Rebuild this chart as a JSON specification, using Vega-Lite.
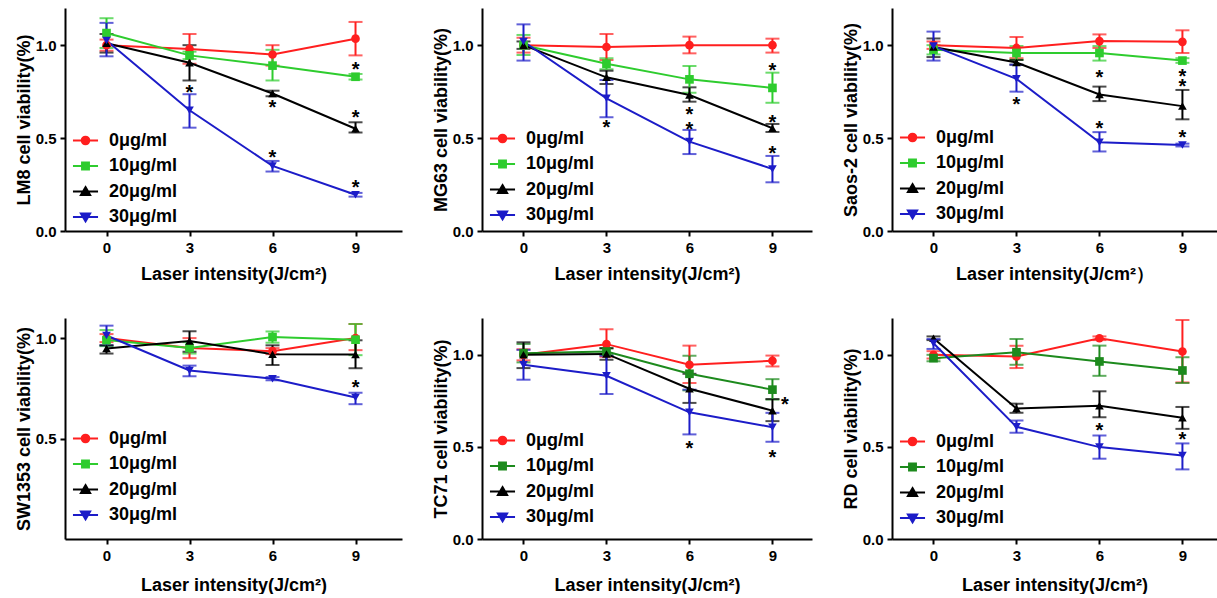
{
"$schema": "https://vega.github.io/schema/vega-lite/v6.json",
"background": "white",
"padding": {"left": 15, "top": 8, "right": 0, "bottom": 0},
"config": {
  "view": {"stroke": null},
  "font": "Liberation Sans",
  "axis": {"grid": false, "domainColor": "#000", "domainWidth": 2, "tickColor": "#000", "tickWidth": 2, "tickSize": 5, "labelFont": "Liberation Sans", "labelFontSize": 15, "labelFontWeight": "bold", "labelColor": "#000", "labelPadding": 4, "titleFont": "Liberation Sans", "titleFontSize": 18, "titleFontWeight": "bold", "titleColor": "#000"},
  "axisY": {"titlePadding": 2},
  "axisX": {"titlePadding": 10},
  "legend": {"symbolSize": 529, "symbolStrokeWidth": 2, "labelFont": "Liberation Sans", "labelFontWeight": "bold", "labelFontSize": 18, "labelColor": "#000", "labelOffset": 11, "padding": 0, "rowPadding": 3.5}
},
"datasets": {
"pts": [
{"cell":"LM8","series":"0μg/ml","x":0,"y":1.0,"lo":0.97,"hi":1.03},
{"cell":"LM8","series":"0μg/ml","x":3,"y":0.98,"lo":0.9,"hi":1.06},
{"cell":"LM8","series":"0μg/ml","x":6,"y":0.95,"lo":0.89,"hi":1.0},
{"cell":"LM8","series":"0μg/ml","x":9,"y":1.035,"lo":0.945,"hi":1.125},
{"cell":"LM8","series":"10μg/ml","x":0,"y":1.065,"lo":0.985,"hi":1.145},
{"cell":"LM8","series":"10μg/ml","x":3,"y":0.945,"lo":0.925,"hi":0.965},
{"cell":"LM8","series":"10μg/ml","x":6,"y":0.89,"lo":0.81,"hi":0.975},
{"cell":"LM8","series":"10μg/ml","x":9,"y":0.83,"lo":0.815,"hi":0.845},
{"cell":"LM8","series":"20μg/ml","x":0,"y":1.01,"lo":0.96,"hi":1.06},
{"cell":"LM8","series":"20μg/ml","x":3,"y":0.905,"lo":0.81,"hi":1.0},
{"cell":"LM8","series":"20μg/ml","x":6,"y":0.74,"lo":0.725,"hi":0.755},
{"cell":"LM8","series":"20μg/ml","x":9,"y":0.55,"lo":0.53,"hi":0.585},
{"cell":"LM8","series":"30μg/ml","x":0,"y":1.025,"lo":0.94,"hi":1.12},
{"cell":"LM8","series":"30μg/ml","x":3,"y":0.65,"lo":0.556,"hi":0.736},
{"cell":"LM8","series":"30μg/ml","x":6,"y":0.35,"lo":0.32,"hi":0.377},
{"cell":"LM8","series":"30μg/ml","x":9,"y":0.195,"lo":0.185,"hi":0.205},
{"cell":"MG63","series":"0μg/ml","x":0,"y":1.0,"lo":0.96,"hi":1.04},
{"cell":"MG63","series":"0μg/ml","x":3,"y":0.99,"lo":0.92,"hi":1.06},
{"cell":"MG63","series":"0μg/ml","x":6,"y":1.0,"lo":0.956,"hi":1.046},
{"cell":"MG63","series":"0μg/ml","x":9,"y":1.0,"lo":0.96,"hi":1.035},
{"cell":"MG63","series":"10μg/ml","x":0,"y":1.0,"lo":0.947,"hi":1.055},
{"cell":"MG63","series":"10μg/ml","x":3,"y":0.9,"lo":0.87,"hi":0.93},
{"cell":"MG63","series":"10μg/ml","x":6,"y":0.816,"lo":0.744,"hi":0.888},
{"cell":"MG63","series":"10μg/ml","x":9,"y":0.77,"lo":0.69,"hi":0.852},
{"cell":"MG63","series":"20μg/ml","x":0,"y":1.0,"lo":0.98,"hi":1.02},
{"cell":"MG63","series":"20μg/ml","x":3,"y":0.827,"lo":0.791,"hi":0.863},
{"cell":"MG63","series":"20μg/ml","x":6,"y":0.732,"lo":0.696,"hi":0.773},
{"cell":"MG63","series":"20μg/ml","x":9,"y":0.553,"lo":0.533,"hi":0.576},
{"cell":"MG63","series":"30μg/ml","x":0,"y":1.02,"lo":0.917,"hi":1.112},
{"cell":"MG63","series":"30μg/ml","x":3,"y":0.714,"lo":0.612,"hi":0.813},
{"cell":"MG63","series":"30μg/ml","x":6,"y":0.481,"lo":0.414,"hi":0.544},
{"cell":"MG63","series":"30μg/ml","x":9,"y":0.334,"lo":0.262,"hi":0.404},
{"cell":"Saos-2","series":"0μg/ml","x":0,"y":1.0,"lo":0.98,"hi":1.02},
{"cell":"Saos-2","series":"0μg/ml","x":3,"y":0.985,"lo":0.93,"hi":1.044},
{"cell":"Saos-2","series":"0μg/ml","x":6,"y":1.022,"lo":0.985,"hi":1.058},
{"cell":"Saos-2","series":"0μg/ml","x":9,"y":1.018,"lo":0.958,"hi":1.08},
{"cell":"Saos-2","series":"10μg/ml","x":0,"y":0.976,"lo":0.95,"hi":1.0},
{"cell":"Saos-2","series":"10μg/ml","x":3,"y":0.958,"lo":0.922,"hi":0.995},
{"cell":"Saos-2","series":"10μg/ml","x":6,"y":0.958,"lo":0.917,"hi":0.995},
{"cell":"Saos-2","series":"10μg/ml","x":9,"y":0.917,"lo":0.905,"hi":0.93},
{"cell":"Saos-2","series":"20μg/ml","x":0,"y":0.99,"lo":0.936,"hi":1.036},
{"cell":"Saos-2","series":"20μg/ml","x":3,"y":0.907,"lo":0.895,"hi":0.92},
{"cell":"Saos-2","series":"20μg/ml","x":6,"y":0.735,"lo":0.699,"hi":0.777},
{"cell":"Saos-2","series":"20μg/ml","x":9,"y":0.672,"lo":0.601,"hi":0.759},
{"cell":"Saos-2","series":"30μg/ml","x":0,"y":0.995,"lo":0.917,"hi":1.073},
{"cell":"Saos-2","series":"30μg/ml","x":3,"y":0.819,"lo":0.75,"hi":0.895},
{"cell":"Saos-2","series":"30μg/ml","x":6,"y":0.477,"lo":0.428,"hi":0.532},
{"cell":"Saos-2","series":"30μg/ml","x":9,"y":0.463,"lo":0.455,"hi":0.47},
{"cell":"SW1353","series":"0μg/ml","x":0,"y":1.0,"lo":0.98,"hi":1.02},
{"cell":"SW1353","series":"0μg/ml","x":3,"y":0.951,"lo":0.9,"hi":1.0},
{"cell":"SW1353","series":"0μg/ml","x":6,"y":0.935,"lo":0.92,"hi":0.95},
{"cell":"SW1353","series":"0μg/ml","x":9,"y":1.0,"lo":0.94,"hi":1.07},
{"cell":"SW1353","series":"10μg/ml","x":0,"y":0.99,"lo":0.96,"hi":1.04},
{"cell":"SW1353","series":"10μg/ml","x":3,"y":0.951,"lo":0.923,"hi":0.98},
{"cell":"SW1353","series":"10μg/ml","x":6,"y":1.005,"lo":0.977,"hi":1.033},
{"cell":"SW1353","series":"10μg/ml","x":9,"y":0.992,"lo":0.915,"hi":1.07},
{"cell":"SW1353","series":"20μg/ml","x":0,"y":0.948,"lo":0.923,"hi":0.964},
{"cell":"SW1353","series":"20μg/ml","x":3,"y":0.985,"lo":0.932,"hi":1.034},
{"cell":"SW1353","series":"20μg/ml","x":6,"y":0.92,"lo":0.866,"hi":0.964},
{"cell":"SW1353","series":"20μg/ml","x":9,"y":0.918,"lo":0.85,"hi":0.989},
{"cell":"SW1353","series":"30μg/ml","x":0,"y":1.013,"lo":0.964,"hi":1.062},
{"cell":"SW1353","series":"30μg/ml","x":3,"y":0.839,"lo":0.81,"hi":0.863},
{"cell":"SW1353","series":"30μg/ml","x":6,"y":0.798,"lo":0.79,"hi":0.806},
{"cell":"SW1353","series":"30μg/ml","x":9,"y":0.704,"lo":0.671,"hi":0.728},
{"cell":"TC71","series":"0μg/ml","x":0,"y":1.0,"lo":0.97,"hi":1.03},
{"cell":"TC71","series":"0μg/ml","x":3,"y":1.058,"lo":0.99,"hi":1.139},
{"cell":"TC71","series":"0μg/ml","x":6,"y":0.946,"lo":0.847,"hi":1.05},
{"cell":"TC71","series":"0μg/ml","x":9,"y":0.968,"lo":0.937,"hi":0.996},
{"cell":"TC71","series":"10μg/ml","x":0,"y":1.009,"lo":0.959,"hi":1.059},
{"cell":"TC71","series":"10μg/ml","x":3,"y":1.018,"lo":1.0,"hi":1.036},
{"cell":"TC71","series":"10μg/ml","x":6,"y":0.897,"lo":0.807,"hi":0.995},
{"cell":"TC71","series":"10μg/ml","x":9,"y":0.811,"lo":0.757,"hi":0.868},
{"cell":"TC71","series":"20μg/ml","x":0,"y":1.0,"lo":0.928,"hi":1.068},
{"cell":"TC71","series":"20μg/ml","x":3,"y":1.005,"lo":0.973,"hi":1.036},
{"cell":"TC71","series":"20μg/ml","x":6,"y":0.816,"lo":0.739,"hi":0.897},
{"cell":"TC71","series":"20μg/ml","x":9,"y":0.697,"lo":0.64,"hi":0.76},
{"cell":"TC71","series":"30μg/ml","x":0,"y":0.946,"lo":0.865,"hi":1.027},
{"cell":"TC71","series":"30μg/ml","x":3,"y":0.886,"lo":0.787,"hi":0.995},
{"cell":"TC71","series":"30μg/ml","x":6,"y":0.688,"lo":0.568,"hi":0.811},
{"cell":"TC71","series":"30μg/ml","x":9,"y":0.607,"lo":0.528,"hi":0.685},
{"cell":"RD","series":"0μg/ml","x":0,"y":1.0,"lo":0.98,"hi":1.02},
{"cell":"RD","series":"0μg/ml","x":3,"y":0.991,"lo":0.928,"hi":1.049},
{"cell":"RD","series":"0μg/ml","x":6,"y":1.09,"lo":1.08,"hi":1.1},
{"cell":"RD","series":"0μg/ml","x":9,"y":1.018,"lo":0.85,"hi":1.189},
{"cell":"RD","series":"10μg/ml","x":0,"y":0.982,"lo":0.965,"hi":1.0},
{"cell":"RD","series":"10μg/ml","x":3,"y":1.014,"lo":0.946,"hi":1.086},
{"cell":"RD","series":"10μg/ml","x":6,"y":0.964,"lo":0.886,"hi":1.05},
{"cell":"RD","series":"10μg/ml","x":9,"y":0.915,"lo":0.847,"hi":0.987},
{"cell":"RD","series":"20μg/ml","x":0,"y":1.09,"lo":1.08,"hi":1.1},
{"cell":"RD","series":"20μg/ml","x":3,"y":0.708,"lo":0.685,"hi":0.735},
{"cell":"RD","series":"20μg/ml","x":6,"y":0.724,"lo":0.661,"hi":0.802},
{"cell":"RD","series":"20μg/ml","x":9,"y":0.658,"lo":0.598,"hi":0.717},
{"cell":"RD","series":"30μg/ml","x":0,"y":1.063,"lo":1.032,"hi":1.086},
{"cell":"RD","series":"30μg/ml","x":3,"y":0.609,"lo":0.577,"hi":0.643},
{"cell":"RD","series":"30μg/ml","x":6,"y":0.499,"lo":0.436,"hi":0.562},
{"cell":"RD","series":"30μg/ml","x":9,"y":0.454,"lo":0.378,"hi":0.519}
],
"stars": [
{"cell":"LM8","x":3,"y":0.768},{"cell":"LM8","x":6,"y":0.687},{"cell":"LM8","x":6,"y":0.418},{"cell":"LM8","x":9,"y":0.892},{"cell":"LM8","x":9,"y":0.637},{"cell":"LM8","x":9,"y":0.26},
{"cell":"MG63","x":3,"y":0.58},{"cell":"MG63","x":6,"y":0.651},{"cell":"MG63","x":6,"y":0.571},{"cell":"MG63","x":9,"y":0.888},{"cell":"MG63","x":9,"y":0.607},{"cell":"MG63","x":9,"y":0.44},
{"cell":"Saos-2","x":3,"y":0.704},{"cell":"Saos-2","x":6,"y":0.849},{"cell":"Saos-2","x":6,"y":0.577},{"cell":"Saos-2","x":9,"y":0.853},{"cell":"Saos-2","x":9,"y":0.804},{"cell":"Saos-2","x":9,"y":0.526},
{"cell":"SW1353","x":9,"y":0.777},
{"cell":"TC71","x":6,"y":0.514},{"cell":"TC71","x":9,"y":0.468},{"cell":"TC71","x":9.45,"y":0.757},
{"cell":"RD","x":6,"y":0.613},{"cell":"RD","x":9,"y":0.562}
]
},
"columns": 3,
"spacing": {"row": 87, "column": 80},
"bounds": "flush",
"resolve": {"scale": {"color": "independent", "shape": "independent", "fill": "independent", "stroke": "independent"}},
"concat": [
{
 "width": 337, "height": 223,
 "resolve": {"scale": {"shape": "independent", "fill": "independent", "stroke": "independent"}},
 "encoding": {
  "x": {"field": "x", "type": "quantitative", "scale": {"domain": [-1.5, 10.68], "nice": false, "zero": false}, "axis": {"values": [0,3,6,9], "title": "Laser intensity(J/cm²)"}},
  "y": {"field": "y", "type": "quantitative", "scale": {"domain": [0, 1.2], "nice": false}, "axis": {"values": [0,0.5,1], "format": ".1f", "title": "LM8 cell viability(%)"}}
 },
 "layer": [
  {"data": {"name": "pts"}, "transform": [{"filter": "datum.cell === 'LM8'"}],
   "mark": {"type": "errorbar", "thickness": 2, "ticks": {"size": 14, "thickness": 2}},
   "encoding": {"y": {"field": "lo", "type": "quantitative", "scale": {"domain": [0, 1.2], "nice": false}, "axis": {"values": [0,0.5,1], "format": ".1f", "title": "LM8 cell viability(%)"}}, "y2": {"field": "hi"},
     "color": {"field": "series", "type": "nominal", "scale": {"domain": ["0μg/ml","10μg/ml","20μg/ml","30μg/ml"], "range": ["#ff1f1f","#2ecc2e","#000000","#1c1cc8"]}, "legend": null}}},
  {"data": {"name": "pts"}, "transform": [{"filter": "datum.cell === 'LM8'"}],
   "mark": {"type": "line", "strokeWidth": 2},
   "encoding": {"color": {"field": "series", "type": "nominal", "scale": {"domain": ["0μg/ml","10μg/ml","20μg/ml","30μg/ml"], "range": ["#ff1f1f","#2ecc2e","#000000","#1c1cc8"]}, "legend": null}}},
  {"data": {"name": "pts"}, "transform": [{"filter": "datum.cell === 'LM8'"}],
   "mark": {"type": "point", "filled": true, "opacity": 1, "size": 75},
   "encoding": {"color": {"field": "series", "type": "nominal", "scale": {"domain": ["0μg/ml","10μg/ml","20μg/ml","30μg/ml"], "range": ["#ff1f1f","#2ecc2e","#000000","#1c1cc8"]}, "legend": null},
     "shape": {"field": "series", "type": "nominal", "scale": {"domain": ["0μg/ml","10μg/ml","20μg/ml","30μg/ml"], "range": ["circle","square","triangle-up","triangle-down"]}, "legend": null}}},
  {"data": {"name": "pts"}, "transform": [{"filter": "false"}],
   "mark": {"type": "point", "filled": true, "opacity": 1},
   "encoding": {
     "fill": {"field": "series", "type": "nominal", "scale": {"domain": ["0μg/ml","10μg/ml","20μg/ml","30μg/ml"], "range": ["#ff1f1f","#2ecc2e","#000000","#1c1cc8"]}, "legend": {"title": null, "orient": "none", "legendX": 8, "legendY": 120}},
     "stroke": {"field": "series", "type": "nominal", "scale": {"domain": ["0μg/ml","10μg/ml","20μg/ml","30μg/ml"], "range": ["#ff1f1f","#2ecc2e","#000000","#1c1cc8"]}, "legend": {"title": null, "orient": "none", "legendX": 8, "legendY": 120}},
     "shape": {"field": "series", "type": "nominal", "scale": {"domain": ["0μg/ml","10μg/ml","20μg/ml","30μg/ml"], "range": ["M-1.09,0L1.09,0M-0.33,0A0.33,0.33,0,1,0,0.33,0A0.33,0.33,0,1,0,-0.33,0Z","M-1.09,0L1.09,0M-0.3,-0.3L0.3,-0.3L0.3,0.3L-0.3,0.3Z","M-1.09,0L1.09,0M0,-0.38L0.4,0.3L-0.4,0.3Z","M-1.09,0L1.09,0M0,0.38L0.4,-0.3L-0.4,-0.3Z"]}, "legend": {"title": null, "orient": "none", "legendX": 8, "legendY": 120}}}},
  {"data": {"name": "stars"}, "transform": [{"filter": "datum.cell === 'LM8'"}],
   "mark": {"type": "text", "text": "*", "font": "Liberation Sans", "fontWeight": "bold", "fontSize": 20, "baseline": "alphabetic", "dy": 11, "color": "#000"}}
 ]
},
{
 "width": 330, "height": 223,
 "resolve": {"scale": {"shape": "independent", "fill": "independent", "stroke": "independent"}},
 "encoding": {
  "x": {"field": "x", "type": "quantitative", "scale": {"domain": [-1.5, 10.43], "nice": false, "zero": false}, "axis": {"values": [0,3,6,9], "title": "Laser intensity(J/cm²)"}},
  "y": {"field": "y", "type": "quantitative", "scale": {"domain": [0, 1.2], "nice": false}, "axis": {"values": [0,0.5,1], "format": ".1f", "title": "MG63 cell viability(%)"}}
 },
 "layer": [
  {"data": {"name": "pts"}, "transform": [{"filter": "datum.cell === 'MG63'"}],
   "mark": {"type": "errorbar", "thickness": 2, "ticks": {"size": 14, "thickness": 2}},
   "encoding": {"y": {"field": "lo", "type": "quantitative", "scale": {"domain": [0, 1.2], "nice": false}, "axis": {"values": [0,0.5,1], "format": ".1f", "title": "MG63 cell viability(%)"}}, "y2": {"field": "hi"},
     "color": {"field": "series", "type": "nominal", "scale": {"domain": ["0μg/ml","10μg/ml","20μg/ml","30μg/ml"], "range": ["#ff1f1f","#2ecc2e","#000000","#1c1cc8"]}, "legend": null}}},
  {"data": {"name": "pts"}, "transform": [{"filter": "datum.cell === 'MG63'"}],
   "mark": {"type": "line", "strokeWidth": 2},
   "encoding": {"color": {"field": "series", "type": "nominal", "scale": {"domain": ["0μg/ml","10μg/ml","20μg/ml","30μg/ml"], "range": ["#ff1f1f","#2ecc2e","#000000","#1c1cc8"]}, "legend": null}}},
  {"data": {"name": "pts"}, "transform": [{"filter": "datum.cell === 'MG63'"}],
   "mark": {"type": "point", "filled": true, "opacity": 1, "size": 75},
   "encoding": {"color": {"field": "series", "type": "nominal", "scale": {"domain": ["0μg/ml","10μg/ml","20μg/ml","30μg/ml"], "range": ["#ff1f1f","#2ecc2e","#000000","#1c1cc8"]}, "legend": null},
     "shape": {"field": "series", "type": "nominal", "scale": {"domain": ["0μg/ml","10μg/ml","20μg/ml","30μg/ml"], "range": ["circle","square","triangle-up","triangle-down"]}, "legend": null}}},
  {"data": {"name": "pts"}, "transform": [{"filter": "false"}],
   "mark": {"type": "point", "filled": true, "opacity": 1},
   "encoding": {
     "fill": {"field": "series", "type": "nominal", "scale": {"domain": ["0μg/ml","10μg/ml","20μg/ml","30μg/ml"], "range": ["#ff1f1f","#2ecc2e","#000000","#1c1cc8"]}, "legend": {"title": null, "orient": "none", "legendX": 8, "legendY": 118}},
     "stroke": {"field": "series", "type": "nominal", "scale": {"domain": ["0μg/ml","10μg/ml","20μg/ml","30μg/ml"], "range": ["#ff1f1f","#2ecc2e","#000000","#1c1cc8"]}, "legend": {"title": null, "orient": "none", "legendX": 8, "legendY": 118}},
     "shape": {"field": "series", "type": "nominal", "scale": {"domain": ["0μg/ml","10μg/ml","20μg/ml","30μg/ml"], "range": ["M-1.09,0L1.09,0M-0.33,0A0.33,0.33,0,1,0,0.33,0A0.33,0.33,0,1,0,-0.33,0Z","M-1.09,0L1.09,0M-0.3,-0.3L0.3,-0.3L0.3,0.3L-0.3,0.3Z","M-1.09,0L1.09,0M0,-0.38L0.4,0.3L-0.4,0.3Z","M-1.09,0L1.09,0M0,0.38L0.4,-0.3L-0.4,-0.3Z"]}, "legend": {"title": null, "orient": "none", "legendX": 8, "legendY": 118}}}},
  {"data": {"name": "stars"}, "transform": [{"filter": "datum.cell === 'MG63'"}],
   "mark": {"type": "text", "text": "*", "font": "Liberation Sans", "fontWeight": "bold", "fontSize": 20, "baseline": "alphabetic", "dy": 11, "color": "#000"}}
 ]
},
{
 "width": 325, "height": 223,
 "resolve": {"scale": {"shape": "independent", "fill": "independent", "stroke": "independent"}},
 "encoding": {
  "x": {"field": "x", "type": "quantitative", "scale": {"domain": [-1.5, 10.25], "nice": false, "zero": false}, "axis": {"values": [0,3,6,9], "title": "Laser intensity(J/cm²）"}},
  "y": {"field": "y", "type": "quantitative", "scale": {"domain": [0, 1.2], "nice": false}, "axis": {"values": [0,0.5,1], "format": ".1f", "title": "Saos-2 cell viability(%)"}}
 },
 "layer": [
  {"data": {"name": "pts"}, "transform": [{"filter": "datum.cell === 'Saos-2'"}],
   "mark": {"type": "errorbar", "thickness": 2, "ticks": {"size": 14, "thickness": 2}},
   "encoding": {"y": {"field": "lo", "type": "quantitative", "scale": {"domain": [0, 1.2], "nice": false}, "axis": {"values": [0,0.5,1], "format": ".1f", "title": "Saos-2 cell viability(%)"}}, "y2": {"field": "hi"},
     "color": {"field": "series", "type": "nominal", "scale": {"domain": ["0μg/ml","10μg/ml","20μg/ml","30μg/ml"], "range": ["#ff1f1f","#2ecc2e","#000000","#1c1cc8"]}, "legend": null}}},
  {"data": {"name": "pts"}, "transform": [{"filter": "datum.cell === 'Saos-2'"}],
   "mark": {"type": "line", "strokeWidth": 2},
   "encoding": {"color": {"field": "series", "type": "nominal", "scale": {"domain": ["0μg/ml","10μg/ml","20μg/ml","30μg/ml"], "range": ["#ff1f1f","#2ecc2e","#000000","#1c1cc8"]}, "legend": null}}},
  {"data": {"name": "pts"}, "transform": [{"filter": "datum.cell === 'Saos-2'"}],
   "mark": {"type": "point", "filled": true, "opacity": 1, "size": 75},
   "encoding": {"color": {"field": "series", "type": "nominal", "scale": {"domain": ["0μg/ml","10μg/ml","20μg/ml","30μg/ml"], "range": ["#ff1f1f","#2ecc2e","#000000","#1c1cc8"]}, "legend": null},
     "shape": {"field": "series", "type": "nominal", "scale": {"domain": ["0μg/ml","10μg/ml","20μg/ml","30μg/ml"], "range": ["circle","square","triangle-up","triangle-down"]}, "legend": null}}},
  {"data": {"name": "pts"}, "transform": [{"filter": "false"}],
   "mark": {"type": "point", "filled": true, "opacity": 1},
   "encoding": {
     "fill": {"field": "series", "type": "nominal", "scale": {"domain": ["0μg/ml","10μg/ml","20μg/ml","30μg/ml"], "range": ["#ff1f1f","#2ecc2e","#000000","#1c1cc8"]}, "legend": {"title": null, "orient": "none", "legendX": 8, "legendY": 117}},
     "stroke": {"field": "series", "type": "nominal", "scale": {"domain": ["0μg/ml","10μg/ml","20μg/ml","30μg/ml"], "range": ["#ff1f1f","#2ecc2e","#000000","#1c1cc8"]}, "legend": {"title": null, "orient": "none", "legendX": 8, "legendY": 117}},
     "shape": {"field": "series", "type": "nominal", "scale": {"domain": ["0μg/ml","10μg/ml","20μg/ml","30μg/ml"], "range": ["M-1.09,0L1.09,0M-0.33,0A0.33,0.33,0,1,0,0.33,0A0.33,0.33,0,1,0,-0.33,0Z","M-1.09,0L1.09,0M-0.3,-0.3L0.3,-0.3L0.3,0.3L-0.3,0.3Z","M-1.09,0L1.09,0M0,-0.38L0.4,0.3L-0.4,0.3Z","M-1.09,0L1.09,0M0,0.38L0.4,-0.3L-0.4,-0.3Z"]}, "legend": {"title": null, "orient": "none", "legendX": 8, "legendY": 117}}}},
  {"data": {"name": "stars"}, "transform": [{"filter": "datum.cell === 'Saos-2'"}],
   "mark": {"type": "text", "text": "*", "font": "Liberation Sans", "fontWeight": "bold", "fontSize": 20, "baseline": "alphabetic", "dy": 11, "color": "#000"}}
 ]
},
{
 "width": 337, "height": 221,
 "resolve": {"scale": {"shape": "independent", "fill": "independent", "stroke": "independent"}},
 "encoding": {
  "x": {"field": "x", "type": "quantitative", "scale": {"domain": [-1.5, 10.68], "nice": false, "zero": false}, "axis": {"values": [0,3,6,9], "title": "Laser intensity(J/cm²)", "titlePadding": 13}},
  "y": {"field": "y", "type": "quantitative", "scale": {"domain": [0, 1.1], "nice": false}, "axis": {"values": [0.5,1], "format": ".1f", "title": "SW1353 cell viability(%)"}}
 },
 "layer": [
  {"data": {"name": "pts"}, "transform": [{"filter": "datum.cell === 'SW1353'"}],
   "mark": {"type": "errorbar", "thickness": 2, "ticks": {"size": 14, "thickness": 2}},
   "encoding": {"y": {"field": "lo", "type": "quantitative", "scale": {"domain": [0, 1.1], "nice": false}, "axis": {"values": [0.5,1], "format": ".1f", "title": "SW1353 cell viability(%)"}}, "y2": {"field": "hi"},
     "color": {"field": "series", "type": "nominal", "scale": {"domain": ["0μg/ml","10μg/ml","20μg/ml","30μg/ml"], "range": ["#ff1f1f","#2ecc2e","#000000","#1c1cc8"]}, "legend": null}}},
  {"data": {"name": "pts"}, "transform": [{"filter": "datum.cell === 'SW1353'"}],
   "mark": {"type": "line", "strokeWidth": 2},
   "encoding": {"color": {"field": "series", "type": "nominal", "scale": {"domain": ["0μg/ml","10μg/ml","20μg/ml","30μg/ml"], "range": ["#ff1f1f","#2ecc2e","#000000","#1c1cc8"]}, "legend": null}}},
  {"data": {"name": "pts"}, "transform": [{"filter": "datum.cell === 'SW1353'"}],
   "mark": {"type": "point", "filled": true, "opacity": 1, "size": 75},
   "encoding": {"color": {"field": "series", "type": "nominal", "scale": {"domain": ["0μg/ml","10μg/ml","20μg/ml","30μg/ml"], "range": ["#ff1f1f","#2ecc2e","#000000","#1c1cc8"]}, "legend": null},
     "shape": {"field": "series", "type": "nominal", "scale": {"domain": ["0μg/ml","10μg/ml","20μg/ml","30μg/ml"], "range": ["circle","square","triangle-up","triangle-down"]}, "legend": null}}},
  {"data": {"name": "pts"}, "transform": [{"filter": "false"}],
   "mark": {"type": "point", "filled": true, "opacity": 1},
   "encoding": {
     "fill": {"field": "series", "type": "nominal", "scale": {"domain": ["0μg/ml","10μg/ml","20μg/ml","30μg/ml"], "range": ["#ff1f1f","#2ecc2e","#000000","#1c1cc8"]}, "legend": {"title": null, "orient": "none", "legendX": 8, "legendY": 108}},
     "stroke": {"field": "series", "type": "nominal", "scale": {"domain": ["0μg/ml","10μg/ml","20μg/ml","30μg/ml"], "range": ["#ff1f1f","#2ecc2e","#000000","#1c1cc8"]}, "legend": {"title": null, "orient": "none", "legendX": 8, "legendY": 108}},
     "shape": {"field": "series", "type": "nominal", "scale": {"domain": ["0μg/ml","10μg/ml","20μg/ml","30μg/ml"], "range": ["M-1.09,0L1.09,0M-0.33,0A0.33,0.33,0,1,0,0.33,0A0.33,0.33,0,1,0,-0.33,0Z","M-1.09,0L1.09,0M-0.3,-0.3L0.3,-0.3L0.3,0.3L-0.3,0.3Z","M-1.09,0L1.09,0M0,-0.38L0.4,0.3L-0.4,0.3Z","M-1.09,0L1.09,0M0,0.38L0.4,-0.3L-0.4,-0.3Z"]}, "legend": {"title": null, "orient": "none", "legendX": 8, "legendY": 108}}}},
  {"data": {"name": "stars"}, "transform": [{"filter": "datum.cell === 'SW1353'"}],
   "mark": {"type": "text", "text": "*", "font": "Liberation Sans", "fontWeight": "bold", "fontSize": 20, "baseline": "alphabetic", "dy": 11, "color": "#000"}}
 ]
},
{
 "width": 330, "height": 221,
 "resolve": {"scale": {"shape": "independent", "fill": "independent", "stroke": "independent"}},
 "encoding": {
  "x": {"field": "x", "type": "quantitative", "scale": {"domain": [-1.5, 10.43], "nice": false, "zero": false}, "axis": {"values": [0,3,6,9], "title": "Laser intensity(J/cm²)", "titlePadding": 13}},
  "y": {"field": "y", "type": "quantitative", "scale": {"domain": [0, 1.2], "nice": false}, "axis": {"values": [0,0.5,1], "format": ".1f", "title": "TC71 cell viability(%)"}}
 },
 "layer": [
  {"data": {"name": "pts"}, "transform": [{"filter": "datum.cell === 'TC71'"}],
   "mark": {"type": "errorbar", "thickness": 2, "ticks": {"size": 14, "thickness": 2}},
   "encoding": {"y": {"field": "lo", "type": "quantitative", "scale": {"domain": [0, 1.2], "nice": false}, "axis": {"values": [0,0.5,1], "format": ".1f", "title": "TC71 cell viability(%)"}}, "y2": {"field": "hi"},
     "color": {"field": "series", "type": "nominal", "scale": {"domain": ["0μg/ml","10μg/ml","20μg/ml","30μg/ml"], "range": ["#ff1f1f","#1d8a1d","#000000","#1c1cc8"]}, "legend": null}}},
  {"data": {"name": "pts"}, "transform": [{"filter": "datum.cell === 'TC71'"}],
   "mark": {"type": "line", "strokeWidth": 2},
   "encoding": {"color": {"field": "series", "type": "nominal", "scale": {"domain": ["0μg/ml","10μg/ml","20μg/ml","30μg/ml"], "range": ["#ff1f1f","#1d8a1d","#000000","#1c1cc8"]}, "legend": null}}},
  {"data": {"name": "pts"}, "transform": [{"filter": "datum.cell === 'TC71'"}],
   "mark": {"type": "point", "filled": true, "opacity": 1, "size": 75},
   "encoding": {"color": {"field": "series", "type": "nominal", "scale": {"domain": ["0μg/ml","10μg/ml","20μg/ml","30μg/ml"], "range": ["#ff1f1f","#1d8a1d","#000000","#1c1cc8"]}, "legend": null},
     "shape": {"field": "series", "type": "nominal", "scale": {"domain": ["0μg/ml","10μg/ml","20μg/ml","30μg/ml"], "range": ["circle","square","triangle-up","triangle-down"]}, "legend": null}}},
  {"data": {"name": "pts"}, "transform": [{"filter": "false"}],
   "mark": {"type": "point", "filled": true, "opacity": 1},
   "encoding": {
     "fill": {"field": "series", "type": "nominal", "scale": {"domain": ["0μg/ml","10μg/ml","20μg/ml","30μg/ml"], "range": ["#ff1f1f","#1d8a1d","#000000","#1c1cc8"]}, "legend": {"title": null, "orient": "none", "legendX": 8, "legendY": 110}},
     "stroke": {"field": "series", "type": "nominal", "scale": {"domain": ["0μg/ml","10μg/ml","20μg/ml","30μg/ml"], "range": ["#ff1f1f","#1d8a1d","#000000","#1c1cc8"]}, "legend": {"title": null, "orient": "none", "legendX": 8, "legendY": 110}},
     "shape": {"field": "series", "type": "nominal", "scale": {"domain": ["0μg/ml","10μg/ml","20μg/ml","30μg/ml"], "range": ["M-1.09,0L1.09,0M-0.33,0A0.33,0.33,0,1,0,0.33,0A0.33,0.33,0,1,0,-0.33,0Z","M-1.09,0L1.09,0M-0.3,-0.3L0.3,-0.3L0.3,0.3L-0.3,0.3Z","M-1.09,0L1.09,0M0,-0.38L0.4,0.3L-0.4,0.3Z","M-1.09,0L1.09,0M0,0.38L0.4,-0.3L-0.4,-0.3Z"]}, "legend": {"title": null, "orient": "none", "legendX": 8, "legendY": 110}}}},
  {"data": {"name": "stars"}, "transform": [{"filter": "datum.cell === 'TC71'"}],
   "mark": {"type": "text", "text": "*", "font": "Liberation Sans", "fontWeight": "bold", "fontSize": 20, "baseline": "alphabetic", "dy": 11, "color": "#000"}}
 ]
},
{
 "width": 325, "height": 221,
 "resolve": {"scale": {"shape": "independent", "fill": "independent", "stroke": "independent"}},
 "encoding": {
  "x": {"field": "x", "type": "quantitative", "scale": {"domain": [-1.5, 10.25], "nice": false, "zero": false}, "axis": {"values": [0,3,6,9], "title": "Laser intensity(J/cm²)", "titlePadding": 13}},
  "y": {"field": "y", "type": "quantitative", "scale": {"domain": [0, 1.2], "nice": false}, "axis": {"values": [0,0.5,1], "format": ".1f", "title": "RD cell viability(%)"}}
 },
 "layer": [
  {"data": {"name": "pts"}, "transform": [{"filter": "datum.cell === 'RD'"}],
   "mark": {"type": "errorbar", "thickness": 2, "ticks": {"size": 14, "thickness": 2}},
   "encoding": {"y": {"field": "lo", "type": "quantitative", "scale": {"domain": [0, 1.2], "nice": false}, "axis": {"values": [0,0.5,1], "format": ".1f", "title": "RD cell viability(%)"}}, "y2": {"field": "hi"},
     "color": {"field": "series", "type": "nominal", "scale": {"domain": ["0μg/ml","10μg/ml","20μg/ml","30μg/ml"], "range": ["#ff1f1f","#1d8a1d","#000000","#1c1cc8"]}, "legend": null}}},
  {"data": {"name": "pts"}, "transform": [{"filter": "datum.cell === 'RD'"}],
   "mark": {"type": "line", "strokeWidth": 2},
   "encoding": {"color": {"field": "series", "type": "nominal", "scale": {"domain": ["0μg/ml","10μg/ml","20μg/ml","30μg/ml"], "range": ["#ff1f1f","#1d8a1d","#000000","#1c1cc8"]}, "legend": null}}},
  {"data": {"name": "pts"}, "transform": [{"filter": "datum.cell === 'RD'"}],
   "mark": {"type": "point", "filled": true, "opacity": 1, "size": 75},
   "encoding": {"color": {"field": "series", "type": "nominal", "scale": {"domain": ["0μg/ml","10μg/ml","20μg/ml","30μg/ml"], "range": ["#ff1f1f","#1d8a1d","#000000","#1c1cc8"]}, "legend": null},
     "shape": {"field": "series", "type": "nominal", "scale": {"domain": ["0μg/ml","10μg/ml","20μg/ml","30μg/ml"], "range": ["circle","square","triangle-up","triangle-down"]}, "legend": null}}},
  {"data": {"name": "pts"}, "transform": [{"filter": "false"}],
   "mark": {"type": "point", "filled": true, "opacity": 1},
   "encoding": {
     "fill": {"field": "series", "type": "nominal", "scale": {"domain": ["0μg/ml","10μg/ml","20μg/ml","30μg/ml"], "range": ["#ff1f1f","#1d8a1d","#000000","#1c1cc8"]}, "legend": {"title": null, "orient": "none", "legendX": 8, "legendY": 111}},
     "stroke": {"field": "series", "type": "nominal", "scale": {"domain": ["0μg/ml","10μg/ml","20μg/ml","30μg/ml"], "range": ["#ff1f1f","#1d8a1d","#000000","#1c1cc8"]}, "legend": {"title": null, "orient": "none", "legendX": 8, "legendY": 111}},
     "shape": {"field": "series", "type": "nominal", "scale": {"domain": ["0μg/ml","10μg/ml","20μg/ml","30μg/ml"], "range": ["M-1.09,0L1.09,0M-0.33,0A0.33,0.33,0,1,0,0.33,0A0.33,0.33,0,1,0,-0.33,0Z","M-1.09,0L1.09,0M-0.3,-0.3L0.3,-0.3L0.3,0.3L-0.3,0.3Z","M-1.09,0L1.09,0M0,-0.38L0.4,0.3L-0.4,0.3Z","M-1.09,0L1.09,0M0,0.38L0.4,-0.3L-0.4,-0.3Z"]}, "legend": {"title": null, "orient": "none", "legendX": 8, "legendY": 111}}}},
  {"data": {"name": "stars"}, "transform": [{"filter": "datum.cell === 'RD'"}],
   "mark": {"type": "text", "text": "*", "font": "Liberation Sans", "fontWeight": "bold", "fontSize": 20, "baseline": "alphabetic", "dy": 11, "color": "#000"}}
 ]
}
]
}
